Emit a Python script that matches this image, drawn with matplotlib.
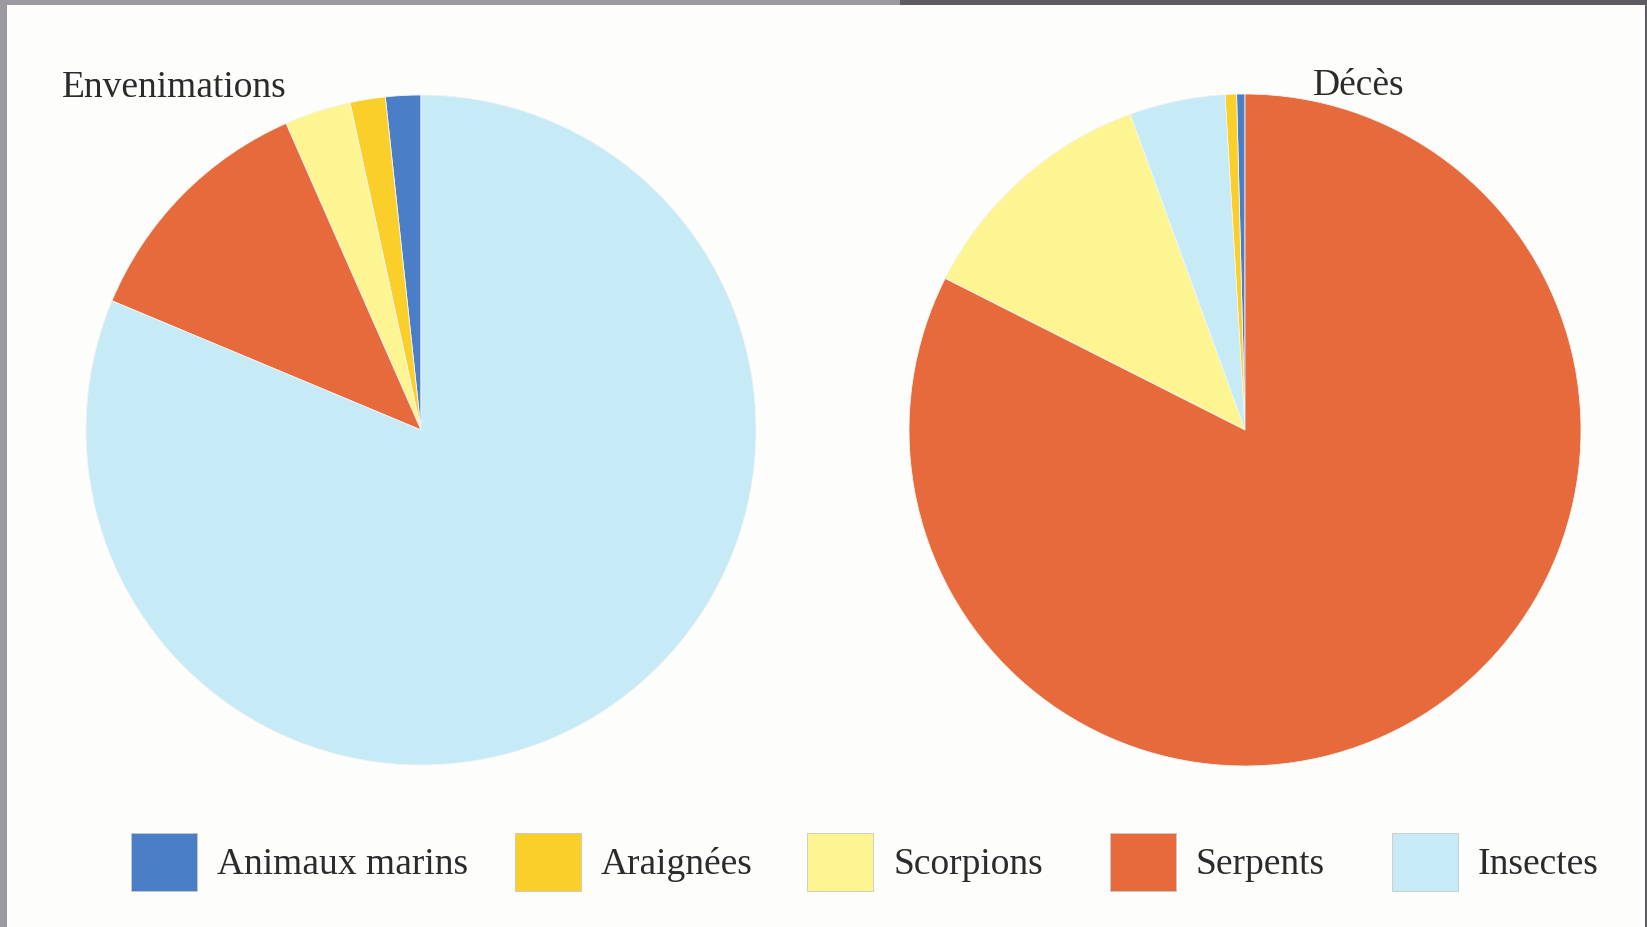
import matplotlib
matplotlib.use("Agg")
import matplotlib.pyplot as plt
from matplotlib.patches import Rectangle

# ---- data ----
categories = ["Animaux marins", "Araignées", "Scorpions", "Serpents", "Insectes"]
colors = {"Animaux marins": "#4a7ec6", "Araignées": "#fbcf2a", "Scorpions": "#fdf591",
          "Serpents": "#e66a3c", "Insectes": "#c7eaf7"}

env_order = ["Animaux marins", "Araignées", "Scorpions", "Serpents", "Insectes"]
env_values = [1.7, 1.7, 3.2, 12.1, 81.3]

deces_order = ["Animaux marins", "Araignées", "Insectes", "Scorpions", "Serpents"]
deces_values = [0.4, 0.55, 4.6, 12.0, 82.45]

titles = ["Envenimations", "Décès"]

# ---- layout ----
W, H = 1647, 927
fig = plt.figure(figsize=(W / 100, H / 100), dpi=100)
fig.patch.set_facecolor("#9c99a1")

bg = fig.add_axes([0, 0, 1, 1])
bg.set_xlim(0, W)
bg.set_ylim(H, 0)
bg.axis("off")
bg.add_patch(Rectangle((7, 5), W - 9, H - 5, facecolor="#fdfdfc", edgecolor="none"))
bg.add_patch(Rectangle((900, 0), W - 900, 5, facecolor="#5f5b63", edgecolor="none"))
bg.add_patch(Rectangle((W - 2, 0), 2, H, facecolor="#5f5b63", edgecolor="none"))

serif = ["Liberation Serif", "DejaVu Serif"]
txtcol = "#2b2b2b"


def pie_axes(cx, cy, r):
    return fig.add_axes([(cx - r) / W, (H - cy - r) / H, 2 * r / W, 2 * r / H])


for (cx, cy, r), order, vals in [((421, 430, 335), env_order, env_values),
                                 ((1245, 430, 336), deces_order, deces_values)]:
    ax = pie_axes(cx, cy, r)
    ax.pie(vals, colors=[colors[c] for c in order], startangle=90, counterclock=True,
           wedgeprops=dict(linewidth=0.6, edgecolor="#f4f4f2"))
    ax.set_xlim(-1, 1)
    ax.set_ylim(-1, 1)
    ax.set_aspect("equal")
    ax.axis("off")

bg.text(62, 97, titles[0], fontsize=27, family=serif, color=txtcol, va="baseline", ha="left")
bg.text(1313, 95, titles[1], fontsize=27, family=serif, color=txtcol, va="baseline", ha="left")

# ---- legend ----
legend_box_x = [131, 515, 807, 1110, 1392]
for x, cat in zip(legend_box_x, categories):
    bg.add_patch(Rectangle((x, 833), 66, 58, facecolor=colors[cat], edgecolor="#c8c8c8", linewidth=0.6))
    bg.text(x + 86, 874, cat, fontsize=27, family=serif, color=txtcol, va="baseline", ha="left")

fig.savefig("out.png", dpi=100, facecolor=fig.get_facecolor())
